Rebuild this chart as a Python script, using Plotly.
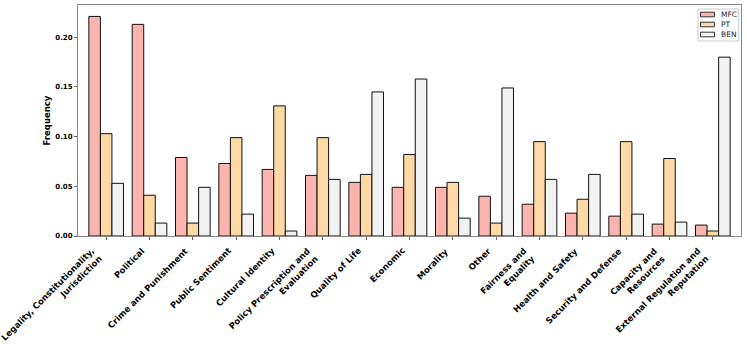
import plotly.graph_objects as go

categories = [
    "Legality, Constitutionality,<br>Jurisdiction", "Political", "Crime and Punishment",
    "Public Sentiment", "Cultural Identity", "Policy Prescription and<br>Evaluation",
    "Quality of Life", "Economic", "Morality", "Other", "Fairness and<br>Equality",
    "Health and Safety", "Security and Defense", "Capacity and<br>Resources",
    "External Regulation and<br>Reputation",
]
mfc = [0.221, 0.213, 0.079, 0.073, 0.067, 0.061, 0.054, 0.049, 0.049, 0.040, 0.032, 0.023, 0.020, 0.012, 0.011]
pt = [0.103, 0.041, 0.013, 0.099, 0.131, 0.099, 0.062, 0.082, 0.054, 0.013, 0.095, 0.037, 0.095, 0.078, 0.005]
ben = [0.053, 0.013, 0.049, 0.022, 0.005, 0.057, 0.145, 0.158, 0.018, 0.149, 0.057, 0.062, 0.022, 0.014, 0.180]

series = [("MFC", mfc, "#fbb4ae"), ("PT", pt, "#fed9a6"), ("BEN", ben, "#f2f2f2")]
x = list(range(len(categories)))

W, H = 747, 347
ML, MR, MT, MB = 78, 6, 5, 111
font = "DejaVu Sans"


def px_x(p):
    return (p - ML) / (W - ML - MR)


def px_y(p):
    return (H - MB - p) / (H - MT - MB)


fig = go.Figure()
for name, vals, col in series:
    fig.add_trace(go.Bar(x=x, y=vals, name=name, marker_color=col,
                         marker_line_color="#111", marker_line_width=1))

# category labels, right/top aligned under each tick like matplotlib ha='right'
for i, c in enumerate(categories):
    fig.add_annotation(x=i, y=0, xref="x", yref="paper", yshift=-7,
                       text="<b>%s</b>" % c.replace("<br>", "</b><br><b>"),
                       textangle=-45, xanchor="right", yanchor="top", align="right",
                       showarrow=False, font=dict(size=8.5, family=font, color="black"))

# compact legend box (top right)
fig.add_shape(type="rect", xref="paper", yref="paper",
              x0=px_x(698), x1=px_x(738.5), y0=px_y(41), y1=px_y(9),
              line=dict(color="#ccc", width=1), fillcolor="white", layer="above")
for k, (name, vals, col) in enumerate(series):
    cy = 14.5 + 10 * k
    fig.add_shape(type="rect", xref="paper", yref="paper",
                  x0=px_x(700.5), x1=px_x(714.5), y0=px_y(cy + 2.3), y1=px_y(cy - 2.3),
                  line=dict(color="#333", width=1), fillcolor=col, layer="above")
    fig.add_annotation(x=px_x(719), y=px_y(cy), xref="paper", yref="paper",
                       text=name, xanchor="left", yanchor="middle", showarrow=False,
                       font=dict(size=7.5, family=font, color="#222"))

fig.update_layout(
    width=W, height=H,
    margin=dict(l=ML, r=MR, t=MT, b=MB),
    plot_bgcolor="white", paper_bgcolor="white",
    barmode="group", bargap=0.2, bargroupgap=0,
    font=dict(family=font, size=7, color="black"),
    showlegend=False,
)
fig.update_xaxes(
    tickvals=x, showticklabels=False, range=[-0.65, 14.65], automargin=False,
    showline=True, linecolor="#888", mirror=True, linewidth=1,
    ticks="outside", ticklen=3, tickcolor="#666", showgrid=False,
)
fig.update_yaxes(
    range=[0, 0.2325], tickvals=[0, 0.05, 0.1, 0.15, 0.2], automargin=False,
    ticktext=["<b>0.00</b>", "<b>0.05</b>", "<b>0.10</b>", "<b>0.15</b>", "<b>0.20</b>"],
    showline=True, linecolor="#888", mirror=True, linewidth=1,
    ticks="outside", ticklen=3, tickcolor="#666", showgrid=False, zeroline=False,
    tickfont=dict(size=7, family=font),
    title=dict(text="<b>Frequency</b>", font=dict(size=8.5, family=font), standoff=3),
)

fig.write_html("out.html", config={"displayModeBar": False},
               post_script="document.body.style.margin='0';")
